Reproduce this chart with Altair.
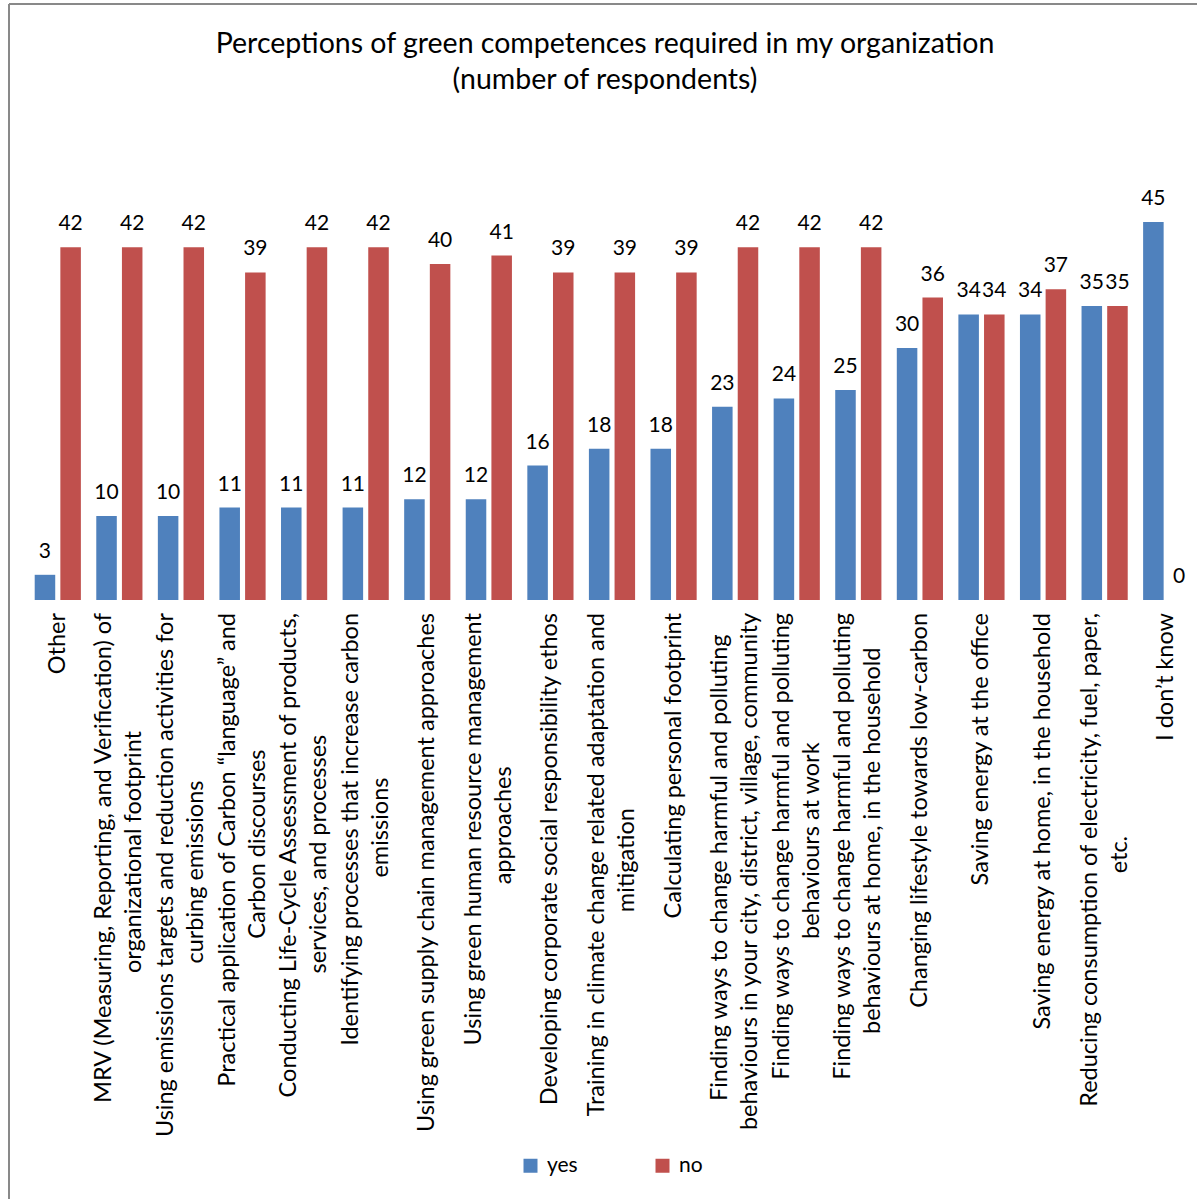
import altair as alt
import pandas as pd

# ---------------- data ----------------
label_lines = [
    ["Other"],
    ["MRV (Measuring, Reporting, and Verification) of", "organizational footprint"],
    ["Using emissions targets and reduction activities for", "curbing emissions"],
    ["Practical application of Carbon \u201clanguage\u201d and", "Carbon discourses"],
    ["Conducting Life-Cycle Assessment of products,", "services, and processes"],
    ["Identifying processes that increase carbon", "emissions"],
    ["Using green supply chain management approaches"],
    ["Using green human resource management", "approaches"],
    ["Developing corporate social responsibility ethos"],
    ["Training in climate change related adaptation and", "mitigation"],
    ["Calculating personal footprint"],
    ["Finding ways to change harmful and polluting", "behaviours in your city, district, village, community"],
    ["Finding ways to change harmful and polluting", "behaviours at work"],
    ["Finding ways to change harmful and polluting", "behaviours at home, in the household"],
    ["Changing lifestyle towards low-carbon"],
    ["Saving energy at the office"],
    ["Saving energy at home, in the household"],
    ["Reducing consumption of electricity, fuel, paper,", "etc."],
    ["I don\u2019t know"],
]
yes_values = [3, 10, 10, 11, 11, 11, 12, 12, 16, 18, 18, 23, 24, 25, 30, 34, 34, 35, 45]
no_values = [42, 42, 42, 39, 42, 42, 40, 41, 39, 39, 39, 42, 42, 42, 36, 34, 37, 35, 0]
series_names = ["yes", "no"]
series_colors = ["#4F81BD", "#C0504D"]
title_lines = ["Perceptions of green competences required in my organization",
               "(number of respondents)"]

categories = [" ".join(l) for l in label_lines]

rows = []
for c, y, n in zip(categories, yes_values, no_values):
    rows.append({"cat": c, "series": "yes", "value": y})
    rows.append({"cat": c, "series": "no", "value": n})
bars_df = pd.DataFrame(rows)

lab_rows = []
for c, l in zip(categories, label_lines):
    li = max(range(len(l)), key=lambda i: len(l[i]))
    lab_rows.append({"cat": c, "n": len(l), "li": li,
                     "long": l[li], "short": l[1 - li] if len(l) > 1 else ""})
lab_df = pd.DataFrame(lab_rows)

FONT = "Lato"
LFS = 23.5
W, H = 1170, 420

x_enc = alt.X("cat:N", sort=categories,
              scale=alt.Scale(paddingInner=0.25, paddingOuter=0.125),
              axis=alt.Axis(labels=False, ticks=False, title=None,
                            domainColor="#898989", domainWidth=2, grid=False))
xo_enc = alt.XOffset("series:N", sort=series_names,
                     scale=alt.Scale(paddingInner=0.2, paddingOuter=0))
y_enc = alt.Y("value:Q", scale=alt.Scale(domain=[0, 50]), axis=None)

bars = alt.Chart(bars_df).mark_bar().encode(
    x=x_enc, xOffset=xo_enc, y=y_enc,
    color=alt.Color("series:N", sort=series_names,
                    scale=alt.Scale(domain=series_names, range=series_colors),
                    legend=alt.Legend(title=None, orient="none", direction="horizontal",
                                      legendX=493, legendY=975,
                                      symbolType="square", symbolSize=196,
                                      symbolStrokeWidth=0,
                                      labelFont=FONT, labelFontSize=21,
                                      labelColor="#000000", labelOffset=6,
                                      columnPadding=74, padding=0)),
)

values = alt.Chart(bars_df).mark_text(
    dy=-17, baseline="alphabetic", align="center", font=FONT, fontSize=21, color="#000000"
).encode(x=x_enc, xOffset=xo_enc, y=y_enc, text="value:Q")

# estimated rendered width of the longest line (to centre the other line on it)
est = ("{fs}*(0.52*length(datum.long)"
       " - 0.29*length(replace(datum.long, regexp('[^ijl.,:; I\u2019]', 'g'), ''))"
       " - 0.18*length(replace(datum.long, regexp('[^trf()\\\\-\u201c\u201d]', 'g'), ''))"
       " + 0.30*length(replace(datum.long, regexp('[^mwMW]', 'g'), ''))"
       " + 0.10*length(replace(datum.long, regexp('[^A-HJ-LN-VX-Z]', 'g'), '')))").format(fs=LFS)

LAB_Y = 433
LINE = 15
lab_base = alt.Chart(lab_df)
xl = alt.X("cat:N", sort=categories, axis=None)


def long_layer(flt, dy):
    return lab_base.mark_text(angle=270, align="right", baseline="middle", dy=dy,
                              font=FONT, fontSize=LFS, color="#000000").encode(
        x=xl, y=alt.value(LAB_Y), text="long:N"
    ).transform_filter(flt)


def short_layer(flt, dy):
    return lab_base.mark_text(angle=270, align="center", baseline="middle", dy=dy,
                              font=FONT, fontSize=LFS, color="#000000").transform_filter(
        flt
    ).transform_calculate(
        ly="%d + (%s)/2" % (LAB_Y, est)
    ).encode(x=xl, y=alt.Y("ly:Q", scale=None, axis=None), text="short:N")


single = long_layer("datum.n == 1", 0)
long_first = long_layer("datum.n == 2 && datum.li == 0", -LINE)
short_second = short_layer("datum.n == 2 && datum.li == 0", LINE)
long_second = long_layer("datum.n == 2 && datum.li == 1", LINE)
short_first = short_layer("datum.n == 2 && datum.li == 1", -LINE)

frame_left = alt.Chart(lab_df).mark_rule(color="#898989", strokeWidth=2).encode(
    x=alt.value(-18), y=alt.value(-176), y2=alt.value(1030))
frame_top = alt.Chart(lab_df).mark_rule(color="#898989", strokeWidth=2).encode(
    x=alt.value(-18), x2=alt.value(1200), y=alt.value(-176))

chart = alt.layer(bars, values, single, long_first, short_second, long_second, short_first,
                  frame_left, frame_top).properties(
    width=W, height=H,
    background="white",
    title=alt.TitleParams(text=title_lines, font=FONT, fontSize=28.5, fontWeight="normal",
                          color="#000000", anchor="middle", lineHeight=36, offset=-91, dx=-7),
    autosize=alt.AutoSizeParams(type="none"),
    padding={"left": 27, "top": 180, "right": 0, "bottom": 599},
).configure_view(stroke="transparent", strokeWidth=0)

chart.save("out.html", embed_options={"renderer": "svg", "actions": False})
